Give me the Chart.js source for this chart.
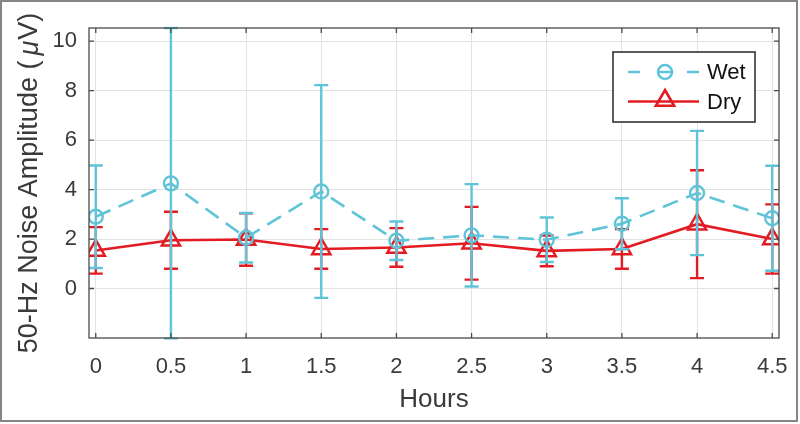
<!DOCTYPE html>
<html><head><meta charset="utf-8">
<script src="https://cdn.jsdelivr.net/npm/chart.js@4/dist/chart.umd.min.js"></script>
<style>html,body{margin:0;padding:0;background:#fff;}canvas{display:block;}</style>
</head><body>
<canvas id="c" width="800" height="424"></canvas>
<script>
// ---- data ----
const hours = [0, 0.5, 1, 1.5, 2, 2.5, 3, 3.5, 4, 4.5];
const wetMean = [2.9, 4.25, 2.05, 3.92, 1.93, 2.15, 1.97, 2.62, 3.86, 2.84];
const wetErr  = [2.07, 6.28, 1.0, 4.3, 0.78, 2.07, 0.9, 1.03, 2.51, 2.12];
const dryMean = [1.54, 1.95, 1.98, 1.6, 1.66, 1.83, 1.52, 1.6, 2.6, 2.0];
const dryErr  = [0.94, 1.15, 1.06, 0.8, 0.78, 1.47, 0.62, 0.8, 2.18, 1.4];
const xTicks = [0, 0.5, 1, 1.5, 2, 2.5, 3, 3.5, 4, 4.5];
const xTickLabels = ["0", "0.5", "1", "1.5", "2", "2.5", "3", "3.5", "4", "4.5"];
const yTicks = [0, 2, 4, 6, 8, 10];
const yTickLabels = ["0", "2", "4", "6", "8", "10"];
const seriesNames = ["Wet", "Dry"];
const xTitle = "Hours";

// ---- style ----
const FONT = '"Liberation Sans", Arial, Helvetica, sans-serif';
const TEXT = '#3a3a3a';
const AXIS = '#4a4a4a';
const WET = '#5fc4d7';
const DRY = '#e31b23';
const LW = 2.6;

const errPlugin = {
  id: 'err',
  beforeDatasetDraw(chart, args) {
    const i0 = args.index;
    const means = i0 === 0 ? wetMean : dryMean;
    const errs = i0 === 0 ? wetErr : dryErr;
    const color = i0 === 0 ? WET : DRY;
    const xs = chart.scales.x, ys = chart.scales.y, a = chart.chartArea, ctx = chart.ctx;
    ctx.save();
    ctx.beginPath(); ctx.rect(a.left, a.top - 1.5, a.right - a.left, a.bottom - a.top + 3); ctx.clip();
    ctx.strokeStyle = color; ctx.lineWidth = 2.4; ctx.setLineDash([]);
    hours.forEach((h, i) => {
      const px = xs.getPixelForValue(h);
      const top = ys.getPixelForValue(means[i] + errs[i]);
      const bot = ys.getPixelForValue(means[i] - errs[i]);
      ctx.beginPath();
      ctx.moveTo(px, top); ctx.lineTo(px, bot);
      ctx.moveTo(px - 7, top); ctx.lineTo(px + 7, top);
      ctx.moveTo(px - 7, bot); ctx.lineTo(px + 7, bot);
      ctx.stroke();
    });
    ctx.restore();
  }
};

function drawCircle(ctx, x, y, r) { ctx.beginPath(); ctx.arc(x, y, r, 0, Math.PI * 2); ctx.stroke(); }
function drawTri(ctx, x, y, r) {
  ctx.beginPath();
  for (let k = 0; k < 3; k++) {
    const ang = k * 2 * Math.PI / 3;
    const px = x + Math.sin(ang) * r, py = y - Math.cos(ang) * r;
    if (k === 0) ctx.moveTo(px, py); else ctx.lineTo(px, py);
  }
  ctx.closePath(); ctx.stroke();
}

const framePlugin = {
  id: 'frame',
  afterDraw(chart) {
    const ctx = chart.ctx, a = chart.chartArea, xs = chart.scales.x, ys = chart.scales.y;
    ctx.save();
    // axes box
    ctx.strokeStyle = AXIS; ctx.lineWidth = 1.3; ctx.setLineDash([]);
    ctx.strokeRect(a.left, a.top, a.right - a.left, a.bottom - a.top);
    // inward ticks
    ctx.beginPath();
    xTicks.forEach(v => {
      const px = xs.getPixelForValue(v);
      ctx.moveTo(px, a.bottom); ctx.lineTo(px, a.bottom - 5);
      ctx.moveTo(px, a.top); ctx.lineTo(px, a.top + 5);
    });
    yTicks.forEach(v => {
      const py = ys.getPixelForValue(v);
      ctx.moveTo(a.left, py); ctx.lineTo(a.left + 5, py);
      ctx.moveTo(a.right, py); ctx.lineTo(a.right - 5, py);
    });
    ctx.stroke();

    // axis titles
    ctx.fillStyle = TEXT;
    ctx.textAlign = 'center'; ctx.textBaseline = 'middle';
    ctx.font = '26px ' + FONT;
    ctx.fillText(xTitle, (a.left + a.right) / 2, 400);

    // y title with italic mu
    const parts = [
      { t: '50-Hz Noise Amplitude (', f: '27px ' + FONT, gap: 0 },
      { t: '\u03bc', f: 'italic 27px ' + FONT, gap: 5 },
      { t: 'V)', f: '27px ' + FONT, gap: 1 }
    ];
    let total = 0;
    parts.forEach(p => { ctx.font = p.f; p.w = ctx.measureText(p.t).width; total += p.w + p.gap; });
    ctx.save();
    ctx.translate(30, (a.top + a.bottom) / 2);
    ctx.rotate(-Math.PI / 2);
    ctx.textAlign = 'left';
    let cx = -total / 2;
    parts.forEach(p => { cx += p.gap; ctx.font = p.f; ctx.fillText(p.t, cx, 0); cx += p.w; });
    ctx.restore();

    // legend
    const lx = 613, ly = 52, lw = 142, lh = 70;
    ctx.fillStyle = '#fff';
    ctx.fillRect(lx, ly, lw, lh);
    ctx.strokeStyle = '#262626'; ctx.lineWidth = 1.5;
    ctx.strokeRect(lx, ly, lw, lh);
    // wet row
    const wy = 72;
    ctx.strokeStyle = WET; ctx.lineWidth = LW;
    ctx.beginPath();
    ctx.moveTo(628, wy); ctx.lineTo(640, wy);
    ctx.moveTo(659, wy); ctx.lineTo(671, wy);
    ctx.moveTo(687, wy); ctx.lineTo(699, wy);
    ctx.stroke();
    drawCircle(ctx, 665, wy, 7);
    // dry row
    const dy = 101.5;
    ctx.strokeStyle = DRY;
    ctx.beginPath(); ctx.moveTo(628, dy); ctx.lineTo(699, dy); ctx.stroke();
    drawTri(ctx, 665, dy - 1, 10.5);
    ctx.fillStyle = '#111';
    ctx.font = '22px ' + FONT;
    ctx.textAlign = 'left'; ctx.textBaseline = 'middle';
    ctx.fillText(seriesNames[0], 707, wy + 1);
    ctx.fillText(seriesNames[1], 707, dy + 1);

    // outer frame
    ctx.strokeStyle = '#858585'; ctx.lineWidth = 2;
    ctx.strokeRect(1, 1, 796, 420);
    ctx.restore();
  }
};

const ctx = document.getElementById('c').getContext('2d');
new Chart(ctx, {
  type: 'line',
  data: {
    datasets: [
      {
        label: seriesNames[0],
        data: hours.map((h, i) => ({ x: h, y: wetMean[i] })),
        borderColor: WET, borderWidth: LW, borderDash: [16, 9],
        pointStyle: 'circle', pointRadius: 7, pointBorderWidth: 2.4,
        pointBorderColor: WET, pointBackgroundColor: 'rgba(0,0,0,0)',
        tension: 0, fill: false
      },
      {
        label: seriesNames[1],
        data: hours.map((h, i) => ({ x: h, y: dryMean[i] })),
        borderColor: DRY, borderWidth: LW,
        pointStyle: 'triangle', pointRadius: 10.5, pointBorderWidth: 2.5,
        pointBorderColor: DRY, pointBackgroundColor: 'rgba(0,0,0,0)',
        tension: 0, fill: false
      }
    ]
  },
  options: {
    responsive: false, animation: false, devicePixelRatio: 1,
    layout: { padding: { top: 28, right: 21, left: 0, bottom: 0 } },
    plugins: { legend: { display: false }, tooltip: { enabled: false } },
    scales: {
      x: {
        type: 'linear', min: -0.045, max: 4.545,
        afterBuildTicks: s => { s.ticks = xTicks.map(v => ({ value: v })); },
        afterFit: s => { s.height = 86; s.paddingLeft = 0; s.paddingRight = 0; },
        ticks: {
          callback: (v, i) => xTickLabels[i],
          font: { family: FONT, size: 22 }, color: TEXT, padding: 16, maxRotation: 0
        },
        grid: { color: '#e2e2e2', lineWidth: 1, drawTicks: false },
        border: { display: false }
      },
      y: {
        type: 'linear', min: -2.0, max: 10.53,
        afterBuildTicks: s => { s.ticks = yTicks.map(v => ({ value: v })); },
        afterFit: s => { s.width = 89; s.paddingTop = 0; s.paddingBottom = 0; },
        ticks: {
          callback: (v, i) => yTickLabels[i],
          font: { family: FONT, size: 22 }, color: TEXT, padding: 12
        },
        grid: { color: '#e2e2e2', lineWidth: 1, drawTicks: false },
        border: { display: false }
      }
    }
  },
  plugins: [errPlugin, framePlugin]
});
</script>
</body></html>
